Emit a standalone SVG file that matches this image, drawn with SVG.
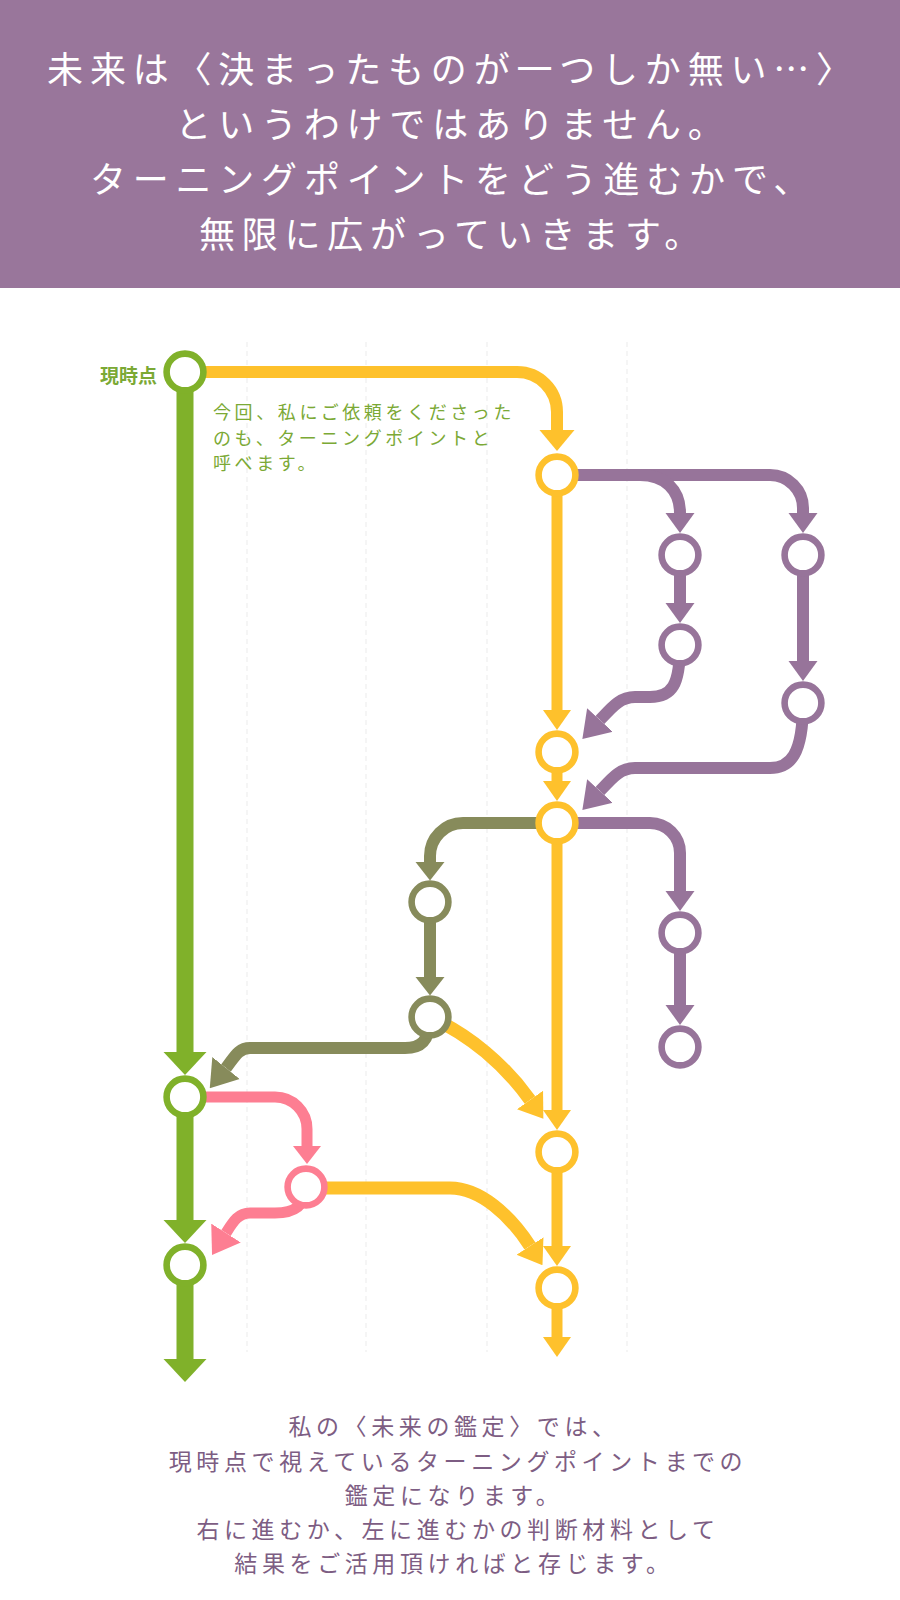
<svg xmlns="http://www.w3.org/2000/svg" width="900" height="1600" viewBox="0 0 900 1600">
<style>
.hd{font-family:"Noto Sans CJK JP","Noto Sans",sans-serif;font-size:36px;fill:#ffffff;letter-spacing:6.8px;text-anchor:middle}
.ft{font-family:"Noto Sans CJK JP","Noto Sans",sans-serif;font-size:23px;fill:#7d5d83;letter-spacing:4.6px;text-anchor:middle}
.note{font-family:"Noto Sans CJK JP","Noto Sans",sans-serif;font-size:18px;fill:#7ba935;letter-spacing:3.6px}
.lbl{font-family:"Noto Sans CJK JP","Noto Sans",sans-serif;font-size:19px;font-weight:bold;fill:#7ba935;text-anchor:end}
.c{fill:none;stroke-linecap:butt;stroke-linejoin:round}
.g{stroke:#80b12a;stroke-width:17}
.y{stroke:#fec12c;stroke-width:11}
.yt{stroke:#fec12c;stroke-width:12}
.yc{stroke:#fec12c;stroke-width:13}
.p{stroke:#97749a;stroke-width:12}
.o{stroke:#878b5b;stroke-width:12}
.k{stroke:#fd7e92;stroke-width:11}
.n{fill:#ffffff;stroke-width:6.6}
.ng{stroke:#80b12a}
.ny{stroke:#fec12c}
.np{stroke:#97749a}
.no{stroke:#878b5b}
.nk{stroke:#fd7e92}
.guide{stroke:#f5f5f5;stroke-width:2;stroke-dasharray:5 4;fill:none}
</style>
<defs>
<marker id="ah-g" viewBox="0 -22 23 44" refX="0" refY="0" markerWidth="23" markerHeight="44" markerUnits="userSpaceOnUse" orient="auto"><path d="M0,-21.5 L23,0 L0,21.5z" fill="#80b12a"/></marker>
<marker id="ah-yl" viewBox="0 -18 21 36" refX="0" refY="0" markerWidth="21" markerHeight="36" markerUnits="userSpaceOnUse" orient="auto"><path d="M0,-17.5 L21,0 L0,17.5z" fill="#fec12c"/></marker>
<marker id="ah-y" viewBox="0 -15 20 30" refX="0" refY="0" markerWidth="20" markerHeight="30" markerUnits="userSpaceOnUse" orient="auto"><path d="M0,-14 L20,0 L0,14z" fill="#fec12c"/></marker>
<marker id="ah-yc" viewBox="0 -17 23 34" refX="0" refY="0" markerWidth="23" markerHeight="34" markerUnits="userSpaceOnUse" orient="auto"><path d="M0,-16 L23,0 L0,16z" fill="#fec12c"/></marker>
<marker id="ah-p" viewBox="0 -15 20 30" refX="0" refY="0" markerWidth="20" markerHeight="30" markerUnits="userSpaceOnUse" orient="auto"><path d="M0,-14.5 L20,0 L0,14.5z" fill="#97749a"/></marker>
<marker id="ah-pc" viewBox="0 -18 26 36" refX="0" refY="0" markerWidth="26" markerHeight="36" markerUnits="userSpaceOnUse" orient="auto"><path d="M0,-17.5 L26,0 L0,17.5z" fill="#97749a"/></marker>
<marker id="ah-o" viewBox="0 -15 19 30" refX="0" refY="0" markerWidth="19" markerHeight="30" markerUnits="userSpaceOnUse" orient="auto"><path d="M0,-14.5 L18.5,0 L0,14.5z" fill="#878b5b"/></marker>
<marker id="ah-oc" viewBox="0 -18 26 36" refX="0" refY="0" markerWidth="26" markerHeight="36" markerUnits="userSpaceOnUse" orient="auto"><path d="M0,-17.5 L26,0 L0,17.5z" fill="#878b5b"/></marker>
<marker id="ah-k" viewBox="0 -15 19 30" refX="0" refY="0" markerWidth="19" markerHeight="30" markerUnits="userSpaceOnUse" orient="auto"><path d="M0,-14 L18,0 L0,14z" fill="#fd7e92"/></marker>
<marker id="ah-kc" viewBox="0 -18 26 36" refX="0" refY="0" markerWidth="26" markerHeight="36" markerUnits="userSpaceOnUse" orient="auto"><path d="M0,-17.5 L26,0 L0,17.5z" fill="#fd7e92"/></marker>
</defs>

<rect x="0" y="0" width="900" height="288" fill="#99769b"/>
<g id="header-text">
<text class="hd" x="453" y="83">未来は〈決まったものが一つしか無い…〉</text>
<text class="hd" x="453" y="138">というわけではありません。</text>
<text class="hd" x="453" y="193">ターニングポイントをどう進むかで、</text>
<text class="hd" x="453" y="248">無限に広がっていきます。</text>
</g>

<g id="guides">
<line class="guide" x1="247" y1="342" x2="247" y2="1352"/>
<line class="guide" x1="366" y1="342" x2="366" y2="1352"/>
<line class="guide" x1="487" y1="342" x2="487" y2="1352"/>
<line class="guide" x1="627" y1="342" x2="627" y2="1352"/>
</g>

<g id="connectors">
<path class="c g" d="M185,372 V1052" marker-end="url(#ah-g)"/>
<path class="c g" d="M185,1097 V1220" marker-end="url(#ah-g)"/>
<path class="c g" d="M185,1265 V1359" marker-end="url(#ah-g)"/>
<path class="c yt" d="M185,372 H517 A40,40 0 0 1 557,412 V430" marker-end="url(#ah-yl)"/>
<path class="c y" d="M557,475 V710" marker-end="url(#ah-y)"/>
<path class="c y" d="M557,752 V781" marker-end="url(#ah-y)"/>
<path class="c y" d="M557,823 V1110" marker-end="url(#ah-y)"/>
<path class="c y" d="M557,1152 V1246" marker-end="url(#ah-y)"/>
<path class="c y" d="M557,1288 V1337" marker-end="url(#ah-y)"/>
<path class="c yc" d="M430,1017 C470,1035 505,1065 530,1100" marker-end="url(#ah-yc)"/>
<path class="c yc" d="M306,1188 H450 C480,1188 510,1215 530,1246" marker-end="url(#ah-yc)"/>
<path class="c p" d="M557,475 H770 A33,33 0 0 1 803,508 V513" marker-end="url(#ah-p)"/>
<path class="c p" d="M640,475 C665,475 680,490 680,513" marker-end="url(#ah-p)"/>
<path class="c p" d="M680,555 V603" marker-end="url(#ah-p)"/>
<path class="c p" d="M803,555 V661" marker-end="url(#ah-p)"/>
<path class="c p" d="M680,645 C680,685 672,697 650,697 H635 C620,697 612,707 600,720" marker-end="url(#ah-pc)"/>
<path class="c p" d="M803,703 C803,755 790,768 770,768 H635 C620,768 612,778 600,791" marker-end="url(#ah-pc)"/>
<path class="c p" d="M557,823 H650 A30,30 0 0 1 680,853 V891" marker-end="url(#ah-p)"/>
<path class="c p" d="M680,933 V1005" marker-end="url(#ah-p)"/>
<path class="c o" d="M557,823 H463 A33,33 0 0 0 430,856 V862" marker-end="url(#ah-o)"/>
<path class="c o" d="M430,902 V977" marker-end="url(#ah-o)"/>
<path class="c o" d="M430,1017 C430,1042 420,1048 405,1048 H250 C238,1048 234,1058 226,1068" marker-end="url(#ah-oc)"/>
<path class="c k" d="M185,1097 H275 A32,32 0 0 1 307,1129 V1146" marker-end="url(#ah-k)"/>
<path class="c k" d="M306,1187 C306,1205 295,1213 275,1213 H250 C238,1213 233,1222 226,1233" marker-end="url(#ah-kc)"/>
</g>

<g id="node-now"><circle class="n ng" cx="185" cy="372" r="18.4"/><text class="lbl" x="157" y="383">現時点</text></g>
<g id="node-g2"><circle class="n ng" cx="185" cy="1097" r="18.4"/></g>
<g id="node-g3"><circle class="n ng" cx="185" cy="1265" r="18.4"/></g>
<g id="node-y1"><circle class="n ny" cx="557" cy="475" r="18.4"/></g>
<g id="node-y2"><circle class="n ny" cx="557" cy="752" r="18.4"/></g>
<g id="node-y3"><circle class="n ny" cx="557" cy="823" r="18.4"/></g>
<g id="node-y4"><circle class="n ny" cx="557" cy="1152" r="18.4"/></g>
<g id="node-y5"><circle class="n ny" cx="557" cy="1288" r="18.4"/></g>
<g id="node-p1"><circle class="n np" cx="680" cy="555" r="18.4"/></g>
<g id="node-p2"><circle class="n np" cx="680" cy="645" r="18.4"/></g>
<g id="node-p3"><circle class="n np" cx="803" cy="555" r="18.4"/></g>
<g id="node-p4"><circle class="n np" cx="803" cy="703" r="18.4"/></g>
<g id="node-p5"><circle class="n np" cx="680" cy="933" r="18.4"/></g>
<g id="node-p6"><circle class="n np" cx="680" cy="1047" r="18.4"/></g>
<g id="node-o1"><circle class="n no" cx="430" cy="902" r="18.4"/></g>
<g id="node-o2"><circle class="n no" cx="430" cy="1017" r="18.4"/></g>
<g id="node-k1"><circle class="n nk" cx="306" cy="1187" r="18.4"/></g>

<g id="note">
<text class="note" x="213" y="419">今回、私にご依頼をくださった</text>
<text class="note" x="213" y="445">のも、ターニングポイントと</text>
<text class="note" x="213" y="470">呼べます。</text>
</g>

<g id="footer-text">
<text class="ft" x="454" y="1435">私の〈未来の鑑定〉では、</text>
<text class="ft" x="458" y="1470">現時点で視えているターニングポイントまでの</text>
<text class="ft" x="454" y="1504">鑑定になります。</text>
<text class="ft" x="458" y="1538">右に進むか、左に進むかの判断材料として</text>
<text class="ft" x="454" y="1572">結果をご活用頂ければと存じます。</text>
</g>
</svg>
